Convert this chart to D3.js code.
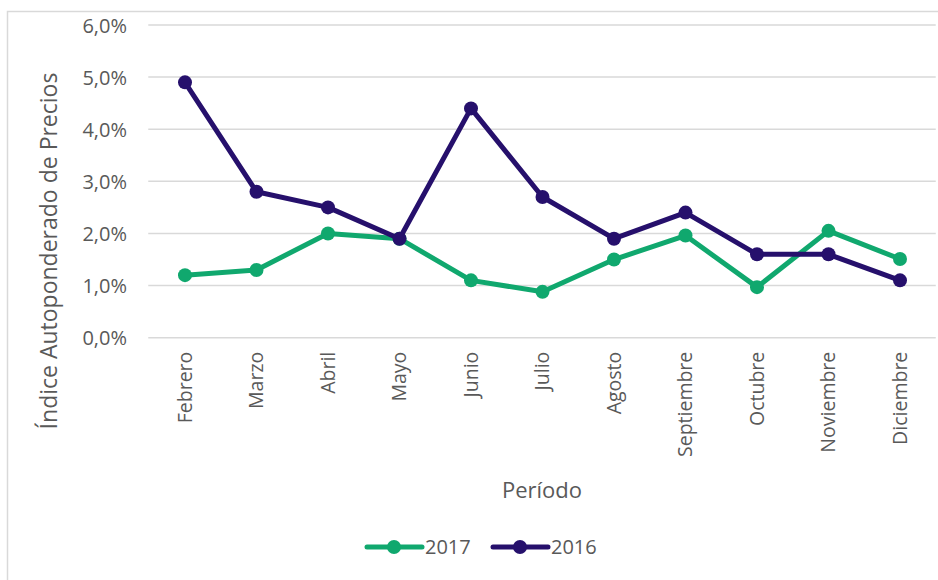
<!DOCTYPE html>
<html>
<head>
<meta charset="utf-8">
<script src="https://cdn.jsdelivr.net/npm/d3@7/dist/d3.min.js"></script>
<style>
  html, body { margin: 0; padding: 0; background: #fff; }
  svg { display: block; }
  text { font-family: "Open Sans", "Noto Sans", sans-serif; fill: #595959; }
</style>
</head>
<body>
<svg id="chart" width="938" height="580"></svg>
<script>
const categories = ["Febrero","Marzo","Abril","Mayo","Junio","Julio","Agosto","Septiembre","Octubre","Noviembre","Diciembre"];
const values2017 = [1.2, 1.3, 2.0, 1.9, 1.1, 0.88, 1.5, 1.96, 0.97, 2.05, 1.51];
const values2016 = [4.9, 2.8, 2.5, 1.9, 4.4, 2.7, 1.9, 2.4, 1.6, 1.6, 1.1];
const yTicks = [0, 1, 2, 3, 4, 5, 6];
const seriesNames = ["2017", "2016"];
const colors = {"2017": "#10a86e", "2016": "#26106c"};

const svg = d3.select("#chart");

// chart border
svg.append("rect").attr("x", 7.5).attr("y", 11.5).attr("width", 960).attr("height", 600)
  .attr("fill", "none").attr("stroke", "#d9d9d9").attr("stroke-width", 1.5);

const plot = {left: 149.25, right: 935.75, top: 25, bottom: 337.7};

const x = d3.scaleBand().domain(categories).range([plot.left, plot.right]);
const y = d3.scaleLinear().domain([0, 6]).range([plot.bottom, plot.top]);

// gridlines
svg.append("g").selectAll("line").data(yTicks).join("line")
  .attr("x1", plot.left - 1).attr("x2", plot.right)
  .attr("y1", d => y(d)).attr("y2", d => y(d))
  .attr("stroke", "#d9d9d9").attr("stroke-width", 1.5);

// y axis labels
const yAxis = d3.axisLeft(y).tickValues(yTicks).tickSize(0).tickPadding(0)
  .tickFormat(d => d.toFixed(1).replace(".", ",") + "%");
const yg = svg.append("g").attr("transform", `translate(127,0)`).call(yAxis);
yg.select(".domain").remove();
yg.selectAll("text").style("font-size", "20px").attr("fill", "#595959").attr("dy", "0.35em");

// x axis labels
const xAxis = d3.axisBottom(x).tickSize(0).tickPadding(0);
const xg = svg.append("g").attr("transform", `translate(0,${plot.bottom})`).call(xAxis);
xg.select(".domain").remove();
xg.selectAll("text")
  .style("font-size", "19.5px").attr("fill", "#595959")
  .attr("text-anchor", "end")
  .attr("transform", "rotate(-90)")
  .attr("x", -14).attr("y", 0).attr("dy", "0.35em");

// axis titles
svg.append("text").attr("transform", "translate(49,251) rotate(-90)")
  .attr("text-anchor", "middle").attr("dy", "0.35em")
  .style("font-size", "23px").text("Índice Autoponderado de Precios");
svg.append("text").attr("x", 542).attr("y", 498)
  .attr("text-anchor", "middle").style("font-size", "22px").text("Período");

// series
const line = d3.line().x((d, i) => x(categories[i]) + x.bandwidth() / 2).y(d => y(d));
const data = {"2017": values2017, "2016": values2016};
["2017", "2016"].forEach(name => {
  const g = svg.append("g");
  g.append("path").datum(data[name]).attr("d", line)
    .attr("fill", "none").attr("stroke", colors[name]).attr("stroke-width", 5)
    .attr("stroke-linejoin", "round");
  g.selectAll("circle").data(data[name]).join("circle")
    .attr("cx", (d, i) => x(categories[i]) + x.bandwidth() / 2)
    .attr("cy", d => y(d)).attr("r", 7).attr("fill", colors[name]);
});

// legend
const legendX = {"2017": 367, "2016": 493};
seriesNames.forEach(name => {
  const lx = legendX[name], ly = 547;
  svg.append("line").attr("x1", lx).attr("x2", lx + 55).attr("y1", ly).attr("y2", ly)
    .attr("stroke", colors[name]).attr("stroke-width", 5).attr("stroke-linecap", "round");
  svg.append("circle").attr("cx", lx + 27).attr("cy", ly).attr("r", 7).attr("fill", colors[name]);
  svg.append("text").attr("x", lx + 58).attr("y", ly).attr("dy", "0.35em")
    .style("font-size", "20px").text(name);
});
</script>
</body>
</html>
